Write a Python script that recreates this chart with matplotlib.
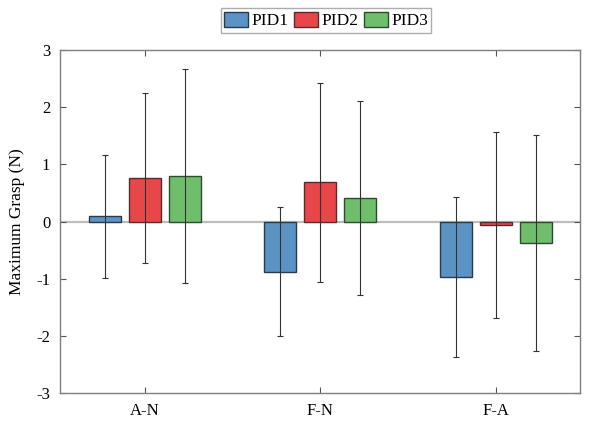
import numpy as np
import matplotlib
matplotlib.use("Agg")
import matplotlib.pyplot as plt

categories = ["A-N", "F-N", "F-A"]
series = ["PID1", "PID2", "PID3"]
pid1_mean = [0.09, -0.875, -0.97]
pid1_err = [1.08, 1.13, 1.40]
pid2_mean = [0.76, 0.69, -0.06]
pid2_err = [1.49, 1.74, 1.63]
pid3_mean = [0.79, 0.41, -0.38]
pid3_err = [1.87, 1.69, 1.89]
yticks = [-3, -2, -1, 0, 1, 2, 3]

colors = ["#5B93C4", "#E8474A", "#6FBE6B"]
edges = ["#2B3A4A", "#5A2A2A", "#2F4A2F"]

plt.rcParams['font.family'] = ['Liberation Serif', 'DejaVu Serif']

fig = plt.figure(figsize=(5.97, 4.23), dpi=100)
ax = fig.add_axes([60/597, 1-393/423, 520/597, 343/423])

x = np.arange(1, len(categories) + 1)
offsets = [-0.228, 0.0, 0.228]
width = 0.183
means = [pid1_mean, pid2_mean, pid3_mean]
errs = [pid1_err, pid2_err, pid3_err]

ax.axhline(0, color="#BDBDBD", lw=1.6, zorder=1)
handles = []
for i in range(3):
    b = ax.bar(x + offsets[i], means[i], width, color=colors[i], edgecolor=edges[i],
               linewidth=1.0, label=series[i], zorder=2)
    handles.append(b)
    ax.errorbar(x + offsets[i], means[i], yerr=errs[i], fmt="none", ecolor="#333333",
                elinewidth=0.8, capsize=2.2, capthick=0.8, zorder=3)

ax.set_xlim(0.515, 3.48)
ax.set_ylim(-3, 3)
ax.set_xticks(x)
ax.set_xticklabels(categories)
ax.set_yticks(yticks)
ax.set_yticklabels([str(v) for v in yticks])
ax.tick_params(direction="in", top=True, right=True, labelsize=12, length=4,
               color="#555555", width=0.8, pad=7)
for s in ax.spines.values():
    s.set_color("#7F7F7F")
    s.set_linewidth(1.0)
ax.set_ylabel("Maximum Grasp (N)", fontsize=12.5, labelpad=8)

leg = fig.legend(handles=handles, labels=series, loc="center", bbox_to_anchor=(326/597, 1-20.5/423),
                 ncol=3, fontsize=12.5, frameon=True, fancybox=False, handlelength=1.4,
                 handleheight=0.95, handletextpad=0.15, columnspacing=0.35, borderpad=0.2,
                 borderaxespad=0)
leg.get_frame().set_edgecolor("#999999")
leg.get_frame().set_linewidth(1.0)

fig.savefig("out.png", dpi=100)
